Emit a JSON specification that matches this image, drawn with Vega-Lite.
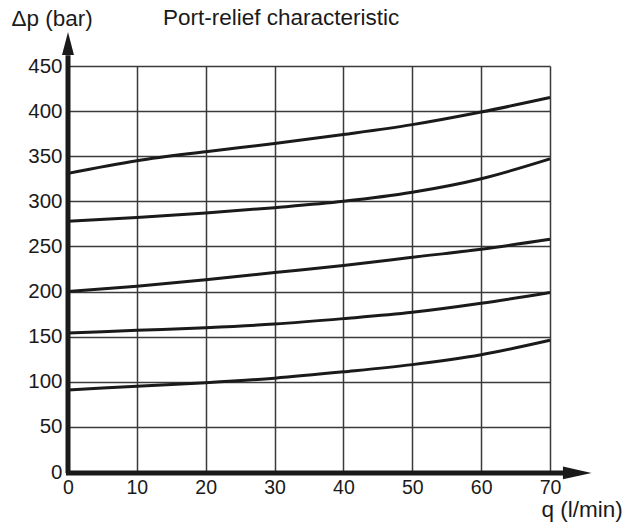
{
  "$schema": "https://vega.github.io/schema/vega-lite/v6.json",
  "width": 482,
  "height": 406,
  "autosize": {"type": "none"},
  "padding": {"left": 68, "top": 66, "right": 84, "bottom": 50},
  "background": "white",
  "config": {
    "view": {"stroke": null},
    "font": "Liberation Sans",
    "axis": {"labelFont": "Liberation Sans", "titleFont": "Liberation Sans", "labelColor": "#1a1a1a", "titleColor": "#1a1a1a", "labelFontSize": 20.5, "titleFontSize": 22.5, "titleFontWeight": "normal", "domain": false, "ticks": false, "grid": true, "gridColor": "#3a3a3a", "gridWidth": 1.5, "gridOpacity": 1}
  },
  "layer": [
    {
      "data": {"values": [
        {"q": 0, "dp": 331, "curve": "1"}, {"q": 10, "dp": 345, "curve": "1"}, {"q": 20, "dp": 355, "curve": "1"}, {"q": 30, "dp": 364, "curve": "1"}, {"q": 40, "dp": 374, "curve": "1"}, {"q": 50, "dp": 385, "curve": "1"}, {"q": 60, "dp": 399, "curve": "1"}, {"q": 70, "dp": 415, "curve": "1"},
        {"q": 0, "dp": 278, "curve": "2"}, {"q": 10, "dp": 282, "curve": "2"}, {"q": 20, "dp": 287, "curve": "2"}, {"q": 30, "dp": 293, "curve": "2"}, {"q": 40, "dp": 300, "curve": "2"}, {"q": 50, "dp": 310, "curve": "2"}, {"q": 60, "dp": 325, "curve": "2"}, {"q": 70, "dp": 347, "curve": "2"},
        {"q": 0, "dp": 200, "curve": "3"}, {"q": 10, "dp": 206, "curve": "3"}, {"q": 20, "dp": 213, "curve": "3"}, {"q": 30, "dp": 221, "curve": "3"}, {"q": 40, "dp": 229, "curve": "3"}, {"q": 50, "dp": 238, "curve": "3"}, {"q": 60, "dp": 247, "curve": "3"}, {"q": 70, "dp": 258, "curve": "3"},
        {"q": 0, "dp": 154, "curve": "4"}, {"q": 10, "dp": 157, "curve": "4"}, {"q": 20, "dp": 160, "curve": "4"}, {"q": 30, "dp": 164, "curve": "4"}, {"q": 40, "dp": 170, "curve": "4"}, {"q": 50, "dp": 177, "curve": "4"}, {"q": 60, "dp": 187, "curve": "4"}, {"q": 70, "dp": 199, "curve": "4"},
        {"q": 0, "dp": 91, "curve": "5"}, {"q": 10, "dp": 95, "curve": "5"}, {"q": 20, "dp": 99, "curve": "5"}, {"q": 30, "dp": 104, "curve": "5"}, {"q": 40, "dp": 111, "curve": "5"}, {"q": 50, "dp": 119, "curve": "5"}, {"q": 60, "dp": 130, "curve": "5"}, {"q": 70, "dp": 146, "curve": "5"}
      ]},
      "mark": {"type": "line", "color": "#1a1a1a", "strokeWidth": 3, "interpolate": "monotone"},
      "encoding": {
        "x": {"field": "q", "type": "quantitative", "scale": {"domain": [0, 70], "nice": false, "zero": false},
          "axis": {"values": [0, 10, 20, 30, 40, 50, 60, 70], "labelPadding": 6, "labelFontSize": 19.5, "title": "q (l/min)", "titleAngle": 0, "titleAlign": "left", "titleBaseline": "alphabetic", "titleX": 473, "titleY": 44, "labelFlush": false}},
        "y": {"field": "dp", "type": "quantitative", "scale": {"domain": [0, 450], "nice": false, "zero": false},
          "axis": {"values": [0, 50, 100, 150, 200, 250, 300, 350, 400, 450], "labelPadding": 6, "title": "Δp (bar)", "titleAngle": 0, "titleAlign": "left", "titleBaseline": "alphabetic", "titleX": -57, "titleY": -41, "labelFlush": false}},
        "detail": {"field": "curve", "type": "nominal"}
      }
    },
    {
      "data": {"values": [
        {"xa": 0, "xb": 0, "ya": -1, "yb": 462},
        {"xa": -0.3, "xb": 72, "ya": -1, "yb": -1}
      ]},
      "mark": {"type": "rule", "color": "#1a1a1a", "strokeWidth": 5},
      "encoding": {
        "x": {"field": "xa", "type": "quantitative"},
        "x2": {"field": "xb"},
        "y": {"field": "ya", "type": "quantitative"},
        "y2": {"field": "yb"}
      }
    },
    {
      "data": {"values": [{"q": 0, "dp": 475}]},
      "mark": {"type": "point", "shape": "M0,-1L0.52,1L-0.52,1Z", "size": 529, "filled": true, "color": "#1a1a1a", "opacity": 1},
      "encoding": {
        "x": {"field": "q", "type": "quantitative"},
        "y": {"field": "dp", "type": "quantitative"}
      }
    },
    {
      "data": {"values": [{"q": 73.96, "dp": -1}]},
      "mark": {"type": "point", "shape": "M1,0L-1,-0.45L-1,0.45Z", "size": 824, "filled": true, "color": "#1a1a1a", "opacity": 1},
      "encoding": {
        "x": {"field": "q", "type": "quantitative"},
        "y": {"field": "dp", "type": "quantitative"}
      }
    },
    {
      "data": {"values": [{"q": 13.8, "dp": 495.4, "label": "Port-relief characteristic"}]},
      "mark": {"type": "text", "align": "left", "baseline": "alphabetic", "fontSize": 22.5, "font": "Liberation Sans", "color": "#1a1a1a"},
      "encoding": {
        "x": {"field": "q", "type": "quantitative"},
        "y": {"field": "dp", "type": "quantitative"},
        "text": {"field": "label"}
      }
    }
  ]
}
